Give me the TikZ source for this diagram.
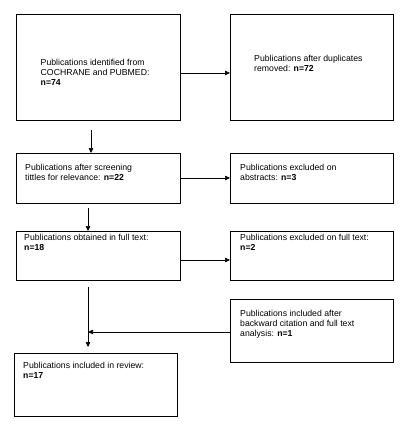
\documentclass[tikz,border=0pt]{standalone}
\usepackage{fontspec}
\setmainfont{Liberation Sans}
\usetikzlibrary{arrows.meta}
\begin{document}
\begin{tikzpicture}[x=1pt,y=-1pt,
  box/.style={draw=black,line width=0.9pt,inner sep=0pt,anchor=north west},
  txt/.style={anchor=north west,inner sep=0pt,align=left,font=\fontsize{8.7}{10}\selectfont},
  conn/.style={line width=0.6pt,-{Triangle[length=5pt,width=4.5pt]}},
  plain/.style={line width=0.6pt}]
\useasboundingbox (0,0) rectangle (408,425);
% boxes
\node[box,minimum width=164pt,minimum height=106pt] (b1) at (16,14) {};
\node[box,minimum width=163pt,minimum height=106pt] (b2) at (230,14) {};
\node[box,minimum width=164pt,minimum height=50pt] (b3) at (16,153) {};
\node[box,minimum width=163pt,minimum height=50pt] (b4) at (230,153) {};
\node[box,minimum width=164pt,minimum height=49pt] (b5) at (16,231) {};
\node[box,minimum width=163pt,minimum height=49pt] (b6) at (230,231) {};
\node[box,minimum width=163pt,minimum height=63pt] (b8) at (230,299) {};
\node[box,minimum width=163pt,minimum height=63pt] (b7) at (14,353) {};
% texts
\node[txt] (t1) at (40.5,58.5) {Publications identified from\\COCHRANE and PUBMED:\\\textbf{n=74}};
\node[txt] (t2) at (254,54.5) {Publications after duplicates\\removed: \textbf{n=72}};
\node[txt] (t3) at (25,163.5) {Publications after screening\\tittles for relevance: \textbf{n=22}};
\node[txt] (t4) at (240,163.5) {Publications excluded on\\abstracts: \textbf{n=3}};
\node[txt] (t5) at (24,233.5) {Publications obtained in full text:\\\textbf{n=18}};
\node[txt] (t6) at (240,233.5) {Publications excluded on full text:\\\textbf{n=2}};
\node[txt] (t8) at (240,309.5) {Publications included after\\backward citation and full text\\analysis: \textbf{n=1}};
\node[txt] (t7) at (23,361.5) {Publications included in review:\\\textbf{n=17}};
% connectors
\coordinate (c1) at (91,130);
\coordinate (c2) at (88,208);
\coordinate (c3) at (88,287);
\coordinate (m) at (88,332);
\draw[conn] (b1.east |- 0,73) -- (b2.west |- 0,73);
\draw[conn] (c1) -- (c1 |- b3.north);
\draw[conn] (b3.east |- 0,178) -- (b4.west |- 0,178);
\draw[conn] (c2) -- (c2 |- b5.north);
\draw[conn] (b5.east |- 0,260) -- (b6.west |- 0,260);
\draw[plain] (c3) -- (88,346);
\draw[conn] (88,340) -- (88,347);
\draw[conn] (b8.west |- m) -- (m);
\end{tikzpicture}
\end{document}
